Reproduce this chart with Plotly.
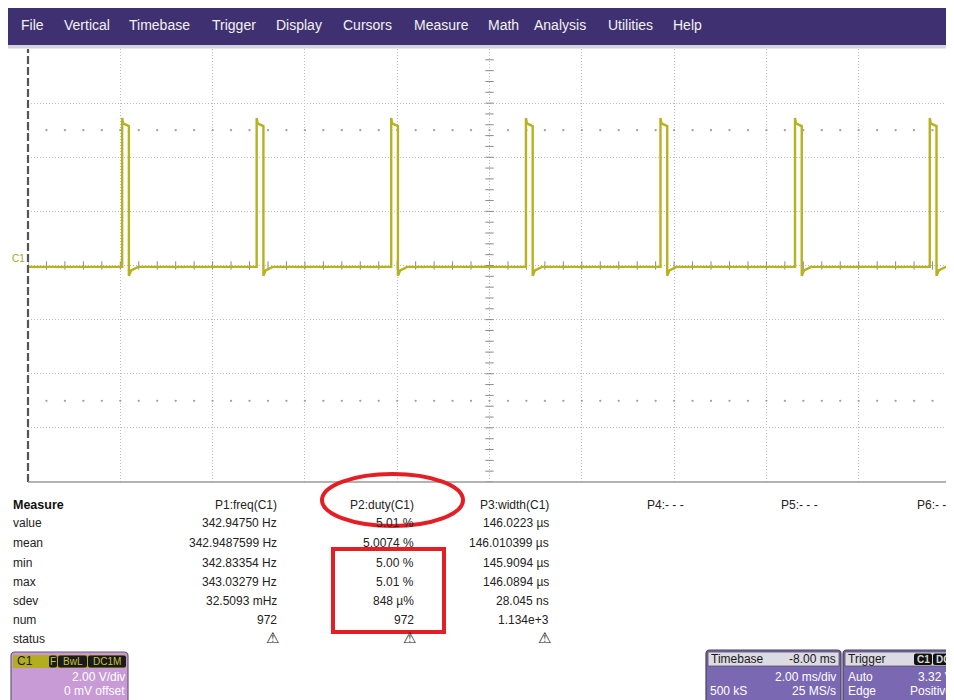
import numpy as np
import plotly.graph_objects as go

# ---------------- data ----------------
menu_items = ["File", "Vertical", "Timebase", "Trigger", "Display", "Cursors",
              "Measure", "Math", "Analysis", "Utilities", "Help"]

# waveform (C1): rising-edge times (ms), pulse width (ms), levels (V)
rise_times_ms = [0.04, 2.955, 5.87, 8.79, 11.705, 14.62, 17.54]
pulse_width_ms = 0.146
low_level_v = -0.05
peak_level_v = 5.45
top_start_v = 5.25
top_end_v = 5.15
undershoot_v = -0.38
recover_v = -0.18
trigger_time_ms = 0.0

WARN = "\u26a0\ufe0e"
row_labels = ["value", "mean", "min", "max", "sdev", "num", "status"]
col_headers = ["P1:freq(C1)", "P2:duty(C1)", "P3:width(C1)"]
col_empty = ["P4:- - -", "P5:- - -", "P6:- - -"]
p1_vals = ["342.94750 Hz", "342.9487599 Hz", "342.83354 Hz", "343.03279 Hz",
           "32.5093 mHz", "972", WARN]
p2_vals = ["5.01 %", "5.0074 %", "5.00 %", "5.01 %", "848 \u00b5%", "972", WARN]
p3_vals = ["146.0223 \u00b5s", "146.010399 \u00b5s", "145.9094 \u00b5s", "146.0894 \u00b5s",
           "28.045 ns", "1.134e+3", WARN]

# ---------------- helpers ----------------
# the page body has an 8px margin, so the figure starts at (8, 8) of the window
OFF = 8
W, H = 954 - OFF, 700 - OFF
def px(x): return (x - OFF) / W
def py(y): return 1 - (y - OFF) / H

FONT = "Liberation Sans, Arial, sans-serif"
TRACE = "#b6b220"

# build trace vertices from the edge list
xs, ys = [-2.0], [low_level_v]
for t in rise_times_ms:
    w = pulse_width_ms
    xs += [t, t, t + 0.02, t + w, t + w, t + w + 0.05, t + w + 0.2]
    ys += [low_level_v, peak_level_v, top_start_v, top_end_v, undershoot_v, recover_v, low_level_v]
xs.append(18.0); ys.append(low_level_v)

fig = go.Figure()

# center-axis ticks
vt = np.arange(-8, 8.001, 0.4)
fig.add_trace(go.Scatter(x=[8] * len(vt), y=vt, mode="markers", hoverinfo="skip",
                         marker=dict(symbol="line-ew", size=6, line=dict(width=1, color="#8a8a8a"))))
ht = np.arange(-2, 18.001, 0.4)
fig.add_trace(go.Scatter(x=ht, y=[0] * len(ht), mode="markers", hoverinfo="skip",
                         marker=dict(symbol="line-ns", size=6, line=dict(width=1, color="#8a8a8a"))))
# dotted rows at +/- 2.5 div
for lv in (5, -5):
    fig.add_trace(go.Scatter(x=ht, y=[lv] * len(ht), mode="markers", hoverinfo="skip",
                             marker=dict(size=2.3, color="#a0a0a0")))

fig.add_trace(go.Scatter(x=xs, y=ys, mode="lines", hoverinfo="skip",
                         line=dict(color=TRACE, width=2.4)))

# trigger marker
fig.add_trace(go.Scatter(x=[trigger_time_ms], y=[-8.3], mode="markers", cliponaxis=False,
                         hoverinfo="skip",
                         marker=dict(symbol="triangle-up", size=10, color="#a9a51a")))

shapes = []
annos = []

# menu bar
shapes.append(dict(type="rect", xref="paper", yref="paper", x0=px(8), x1=px(960), y0=py(45), y1=py(7),
                   fillcolor="#3f3171", line=dict(width=0), layer="below"))
shapes.append(dict(type="rect", xref="paper", yref="paper", x0=px(8), x1=px(960), y0=py(48.5), y1=py(45),
                   fillcolor="#d4d4dc", line=dict(width=0), layer="below"))
menu_x = [20, 63, 128, 211, 275, 342, 413, 487, 533, 607, 672]
for lab, mx in zip(menu_items, menu_x):
    annos.append(dict(x=px(mx), y=py(25), text=lab, xanchor="left", yanchor="middle",
                      font=dict(family=FONT, size=14, color="#f2f2f2")))

# plot borders
shapes.append(dict(type="line", xref="paper", yref="paper", x0=px(28), x1=px(28), y0=py(482), y1=py(49),
                   line=dict(color="#555555", width=2.2, dash="8px,3px")))
shapes.append(dict(type="line", xref="paper", yref="paper", x0=px(950), x1=px(950), y0=py(482), y1=py(49),
                   line=dict(color="#555555", width=2.2, dash="8px,3px")))
shapes.append(dict(type="line", xref="paper", yref="paper", x0=px(28), x1=px(951), y0=py(482), y1=py(482),
                   line=dict(color="#9a9a9a", width=1.5)))

# C1 label
annos.append(dict(x=px(11), y=py(258), text="C1", xanchor="left", yanchor="middle",
                  font=dict(family=FONT, size=10, color="#a8a41a")))

# measure table
annos.append(dict(x=px(12), y=py(505), text="<b>Measure</b>", xanchor="left", yanchor="middle",
                  font=dict(family=FONT, size=12.5, color="#111111")))
row_y = [523, 543, 563, 582, 601, 620, 639]
for lab, ry in zip(row_labels, row_y):
    annos.append(dict(x=px(12), y=py(ry), text=lab, xanchor="left", yanchor="middle",
                      font=dict(family=FONT, size=12, color="#222222")))
col_right = [278, 415, 550]
for hdr, cx, vals in zip(col_headers, col_right, [p1_vals, p2_vals, p3_vals]):
    annos.append(dict(x=px(cx), y=py(505), text=hdr, xanchor="right", yanchor="middle",
                      font=dict(family=FONT, size=12, color="#222222")))
    for v, ry in zip(vals, row_y):
        if v == WARN:
            annos.append(dict(x=px(cx - 6), y=py(ry - 1), text=v, xanchor="center", yanchor="middle",
                              font=dict(family="DejaVu Sans", size=15, color="#222222")))
        else:
            annos.append(dict(x=px(cx), y=py(ry), text=v, xanchor="right", yanchor="middle",
                              font=dict(family=FONT, size=12, color="#222222")))
for lab, cx in zip(col_empty, [646, 780, 916]):
    annos.append(dict(x=px(cx), y=py(505), text=lab, xanchor="left", yanchor="middle",
                      font=dict(family=FONT, size=12, color="#222222")))

# red highlight marks
shapes.append(dict(type="circle", xref="paper", yref="paper", x0=px(322), x1=px(463), y0=py(526), y1=py(474),
                   line=dict(color="#e31e24", width=4)))
shapes.append(dict(type="rect", xref="paper", yref="paper", x0=px(333), x1=px(444), y0=py(632), y1=py(549),
                   line=dict(color="#e31e24", width=4)))

def rrect(x0, y0, x1, y1, r=4):
    X0, X1 = px(x0), px(x1)
    Y0, Y1 = py(y0), py(y1)
    rx, ry = r / W, r / H
    return (f"M {X0+rx},{Y0} L {X1-rx},{Y0} Q {X1},{Y0} {X1},{Y0-ry} L {X1},{Y1+ry} "
            f"Q {X1},{Y1} {X1-rx},{Y1} L {X0+rx},{Y1} Q {X0},{Y1} {X0},{Y1+ry} "
            f"L {X0},{Y0-ry} Q {X0},{Y0} {X0+rx},{Y0} Z")

# C1 channel box
shapes.append(dict(type="path", xref="paper", yref="paper", path=rrect(11, 652, 128, 704),
                   fillcolor="#c89bd6", line=dict(color="#6a5a78", width=1.2)))
shapes.append(dict(type="rect", xref="paper", yref="paper", x0=px(13), x1=px(126), y0=py(668), y1=py(655),
                   fillcolor="#b3ae1f", line=dict(width=0)))
annos.append(dict(x=px(16), y=py(661), text="C1", xanchor="left", yanchor="middle",
                  font=dict(family=FONT, size=12, color="#1a1a1a")))
for lab, a, b in [("F", 49, 57), ("BwL", 58, 87), ("DC1M", 88, 126)]:
    shapes.append(dict(type="path", xref="paper", yref="paper", path=rrect(a, 655.5, b, 667.5, 2),
                       fillcolor="#1a1a1a", line=dict(width=0)))
    annos.append(dict(x=px((a + b) / 2), y=py(661.5), text=lab, xanchor="center", yanchor="middle",
                      font=dict(family=FONT, size=10, color="#c8c43a")))
annos.append(dict(x=px(126), y=py(677), text="2.00 V/div", xanchor="right", yanchor="middle",
                  font=dict(family=FONT, size=12, color="#ffffff")))
annos.append(dict(x=px(126), y=py(691), text="0 mV offset", xanchor="right", yanchor="middle",
                  font=dict(family=FONT, size=12, color="#ffffff")))

# Timebase box
shapes.append(dict(type="path", xref="paper", yref="paper", path=rrect(706, 650, 841, 704),
                   fillcolor="#7a68b2", line=dict(color="#4a4060", width=1.2)))
shapes.append(dict(type="rect", xref="paper", yref="paper", x0=px(708), x1=px(839), y0=py(666), y1=py(652),
                   fillcolor="#dcdbe4", line=dict(color="#555060", width=0.8)))
annos.append(dict(x=px(710), y=py(659), text="Timebase", xanchor="left", yanchor="middle",
                  font=dict(family=FONT, size=12, color="#1a1a1a")))
annos.append(dict(x=px(837), y=py(659), text="-8.00 ms", xanchor="right", yanchor="middle",
                  font=dict(family=FONT, size=12, color="#1a1a1a")))
annos.append(dict(x=px(837), y=py(677), text="2.00 ms/div", xanchor="right", yanchor="middle",
                  font=dict(family=FONT, size=12, color="#ffffff")))
annos.append(dict(x=px(709), y=py(691), text="500 kS", xanchor="left", yanchor="middle",
                  font=dict(family=FONT, size=12, color="#ffffff")))
annos.append(dict(x=px(837), y=py(691), text="25 MS/s", xanchor="right", yanchor="middle",
                  font=dict(family=FONT, size=12, color="#ffffff")))

# Trigger box
shapes.append(dict(type="path", xref="paper", yref="paper", path=rrect(843, 650, 962, 704),
                   fillcolor="#7a68b2", line=dict(color="#4a4060", width=1.2)))
shapes.append(dict(type="rect", xref="paper", yref="paper", x0=px(845), x1=px(960), y0=py(666), y1=py(652),
                   fillcolor="#dcdbe4", line=dict(color="#555060", width=0.8)))
annos.append(dict(x=px(847), y=py(659), text="Trigger", xanchor="left", yanchor="middle",
                  font=dict(family=FONT, size=12, color="#1a1a1a")))
for lab, a, b in [("C1", 914, 932), ("DC", 933, 956)]:
    shapes.append(dict(type="path", xref="paper", yref="paper", path=rrect(a, 653.5, b, 665, 2),
                       fillcolor="#111111", line=dict(width=0)))
    annos.append(dict(x=px(a + 2), y=py(659.5), text=f"<b>{lab}</b>", xanchor="left", yanchor="middle",
                      font=dict(family=FONT, size=10, color="#d8d8d8")))
annos.append(dict(x=px(847), y=py(677), text="Auto", xanchor="left", yanchor="middle",
                  font=dict(family=FONT, size=12, color="#ffffff")))
annos.append(dict(x=px(954), y=py(677), text="3.32 V", xanchor="right", yanchor="middle",
                  font=dict(family=FONT, size=12, color="#ffffff")))
annos.append(dict(x=px(847), y=py(691), text="Edge", xanchor="left", yanchor="middle",
                  font=dict(family=FONT, size=12, color="#ffffff")))
annos.append(dict(x=px(953), y=py(691), text="Positive", xanchor="right", yanchor="middle",
                  font=dict(family=FONT, size=12, color="#ffffff")))

for a in annos:
    a.setdefault("xref", "paper")
    a.setdefault("yref", "paper")
    a.setdefault("showarrow", False)
    a.setdefault("borderpad", 0)

fig.update_layout(
    width=W, height=H,
    margin=dict(l=0, r=0, t=0, b=0),
    paper_bgcolor="white", plot_bgcolor="white",
    showlegend=False,
    shapes=shapes, annotations=annos,
    xaxis=dict(domain=[px(28), px(951)], range=[-2, 18], dtick=2, tick0=0,
               showgrid=True, gridcolor="#bdbdbd", griddash="1px,2px", gridwidth=1,
               zeroline=False, showticklabels=False, ticks="", showline=False, fixedrange=True),
    yaxis=dict(domain=[py(482), py(49)], range=[-8, 8], dtick=2, tick0=0,
               showgrid=True, gridcolor="#bdbdbd", griddash="1px,2px", gridwidth=1,
               zeroline=False, showticklabels=False, ticks="", showline=False, fixedrange=True),
)

fig.write_html("out.html")
